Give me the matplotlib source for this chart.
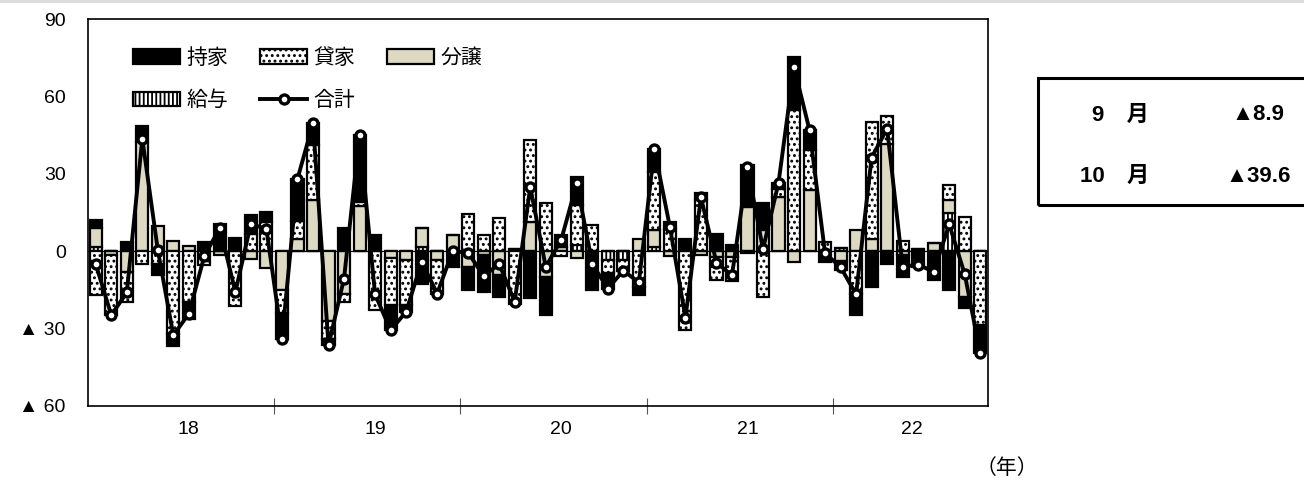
import numpy as np
import matplotlib.pyplot as plt
from matplotlib.patches import Rectangle

plt.rcParams['font.family'] = ['Liberation Sans', 'Noto Sans CJK JP', 'DejaVu Sans']
plt.rcParams['hatch.linewidth'] = 1.3

# monthly contributions, Jan 2018 .. Oct 2022
mochiya = [3.2, 0, 3.6, 6.0, -4.5, -4.7, -6.6, 3.6, 10.5, 5.3, 7.1, 3.9,
           -10, 16.3, 8.5, -2.5, 8.9, 26.0, 6.2, -9.6, -2.5, -12.9, 0, -6.2,
           -9.2, -14.3, -8.4, 0, -18.3, -14.8, 4.5, 11.0, -15.0, -6.0, 0, -3.0,
           8.7, 2.9, 4.9, 2.5, 6.8, 2.3, 16.1, 10.4, 2.5, 20.7, 7.8, -4.3,
           -3.6, -8.4, -13.8, -4.8, -8.5, -6.0, -11.0, -15.1, -4.5, -11.1]
kashiya = [-17.0, -23.5, -11.6, -4.8, -4.8, -31.9, -19.6, -5.4, 0, -21.1, 6.8, 11.3,
           -9.0, 7.0, 21.3, -7.0, -3.0, 1.5, -22.9, -18.5, -17.5, 0, -12.9, 0,
           14.6, 6.2, 12.7, -20.6, 31.8, 18.7, -1.7, 15.5, 10.0, -5.0, -4.0, -14.0,
           22.6, 8.5, -30.6, 19.9, -9.0, -9.5, -0.8, -17.7, 3.0, 54.7, 15.5, 3.5,
           0, -16.4, 45.2, 10.6, 4.0, 0, 0, 5.8, 13.3, -28.5]
bunjo = [7.3, -1.3, -8.0, 42.4, 9.7, 4.0, 2.0, 0, -1.5, 0, -3.2, -6.7,
         -15.0, 4.7, 19.8, -27.0, -16.5, 17.5, 0, -2.5, -3.5, 7.3, -3.5, 6.2,
         -6.0, -1.5, -9.3, 1.0, 11.4, -10.0, 1.7, -2.5, 0, 0, 0, 4.9,
         6.5, -2.0, 0, -1.5, -2.2, -2.2, 17.2, 8.1, 21.0, -4.1, 23.6, 0,
         -3.8, 8.1, 4.9, 41.7, -1.5, 0.8, 3.0, 5.0, -17.7, 0]
kyuyo = [1.5, 0, 0, 0, 0, 0, 0, 0, 0, 0, 0, 0,
         0, 0, 0, 0, 0, 0, 0, 0, 0, 1.5, 0, 0,
         0, 0, 0, 0, 0, 0, 0, 2.3, 0, -3.5, -3.5, 0,
         1.7, 0, 0, 0, 0, 0, 0, 0, 0, 0, 0, 0,
         1.2, 0, 0, 0, 0, 0, 0, 14.7, 0, 0]
year_labels = ['18', '19', '20', '21', '22']
year_label_pos = [6, 18, 30, 42, 52.6]
year_bounds = [11.5, 23.5, 35.5, 47.5]
box_months = ['9\u3000月', '10\u3000月']
box_values = ['▲8.9', '▲39.6']

x = np.arange(len(mochiya))
total = np.array(mochiya) + np.array(kashiya) + np.array(bunjo) + np.array(kyuyo)

fig = plt.figure(figsize=(13.04, 4.83), dpi=100)
ax = fig.add_axes([88 / 1304, 1 - 406 / 483, 900 / 1304, 387 / 483])

# stacking order from zero outwards
series = [('給与', kyuyo, 'white', '||||'),
          ('分譲', bunjo, '#DDD9C3', None),
          ('貸家', kashiya, 'white', '...'),
          ('持家', mochiya, 'black', None)]
pos_base = np.zeros(len(x))
neg_base = np.zeros(len(x))
handles = {}
for name, vals, color, hatch in series:
    v = np.array(vals, dtype=float)
    bottom = np.where(v >= 0, pos_base, neg_base)
    bars = ax.bar(x, v, 0.78, bottom=bottom, color=color, edgecolor='black',
                  linewidth=1.6, hatch=hatch, zorder=2)
    handles[name] = bars
    pos_base += np.where(v >= 0, v, 0)
    neg_base += np.where(v < 0, v, 0)

ax.axhline(0, color='black', lw=0.8, zorder=1.5)
line, = ax.plot(x, total, color='black', lw=2.8, marker='o', markersize=6.5,
                markerfacecolor='white', markeredgecolor='black', markeredgewidth=2.4,
                zorder=4, label='合計')
handles['合計'] = line

order = ['持家', '給与', '貸家', '合計', '分譲']
ax.legend([handles[k] for k in order], order, ncol=3, frameon=False,
          loc='upper left', bbox_to_anchor=(0.05, 0.925), borderpad=0,
          borderaxespad=0, fontsize=15, handlelength=2.25, handletextpad=0.3,
          columnspacing=1.55, labelspacing=1.1)

ax.set_xlim(-0.5, len(x) - 0.5)
ax.set_ylim(-60, 90)
ax.set_yticks([-60, -30, 0, 30, 60, 90])
ax.set_yticklabels(['▲ 60', '▲ 30', '0', '30', '60', '90'], fontsize=14)
ax.tick_params(axis='y', length=0, pad=16)
ax.set_xticks(year_bounds)
ax.set_xticklabels([])
ax.tick_params(axis='x', which='major', direction='inout', length=11, color='#555555')
ax.set_xticks(year_label_pos, minor=True)
ax.set_xticklabels(year_labels, minor=True, fontsize=14)
ax.tick_params(axis='x', which='minor', length=0, pad=11)
for s in ax.spines.values():
    s.set_linewidth(1.2)

fig.text(1007 / 1304, 1 - 468 / 483, '（年）', fontsize=15, ha='center', va='center',
         family=['Noto Sans CJK JP'])

fig.add_artist(Rectangle((1038 / 1304, 1 - 205 / 483), 0.3, 127 / 483,
                         transform=fig.transFigure, fill=False, lw=2.2, color='black'))
for row, (m, v) in enumerate(zip(box_months, box_values)):
    yy = 1 - (115 + 61 * row) / 483
    fig.text(1149 / 1304, yy, m, fontsize=16, fontweight='bold', ha='right', va='center')
    fig.text(1258 / 1304, yy, v, fontsize=16, fontweight='bold', ha='center', va='center')

fig.add_artist(Rectangle((0, 1 - 3 / 483), 1, 3 / 483, transform=fig.transFigure,
                         color='#DDDDDD', lw=0))

fig.savefig('out.png', dpi=100)
